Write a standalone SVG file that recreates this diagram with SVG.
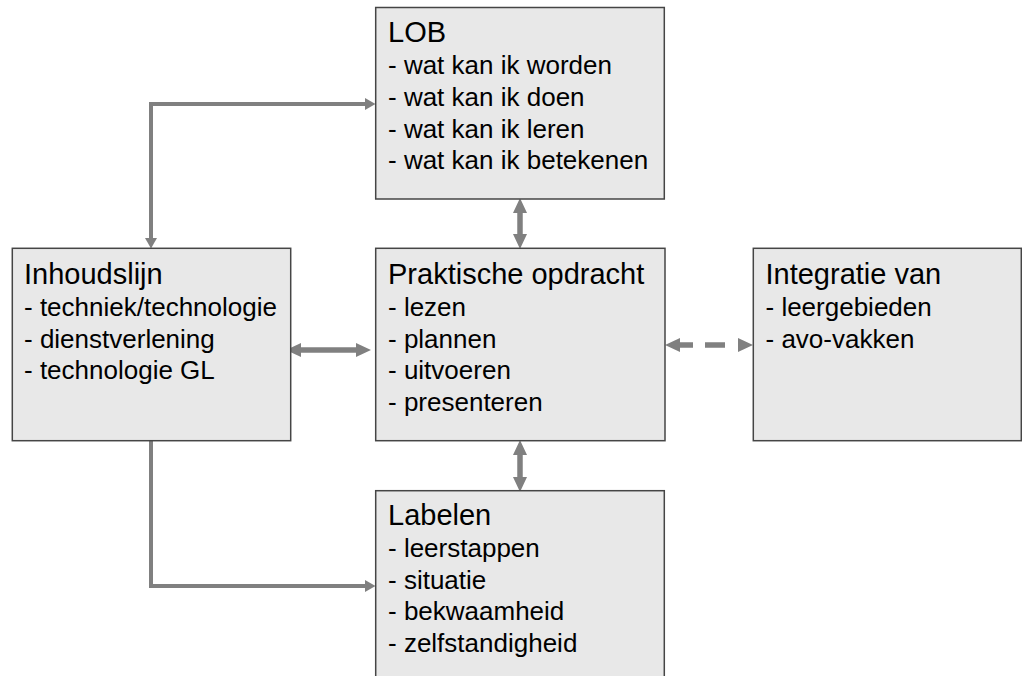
<svg xmlns="http://www.w3.org/2000/svg" width="1022" height="676" viewBox="0 0 1022 676">
<style>
.box{fill:#e8e8e8;stroke:#454545;stroke-width:1.5}
.t{font-family:"Liberation Sans",Arial,sans-serif;font-size:29px;fill:#000}
.i{font-family:"Liberation Sans",Arial,sans-serif;font-size:26px;fill:#000}
.thin{fill:none;stroke:#808080;stroke-width:4}
.thick{fill:none;stroke:#808080;stroke-width:5.5}
</style>
<defs>
<marker id="ah" markerUnits="userSpaceOnUse" markerWidth="11" markerHeight="12" refX="0" refY="6" orient="auto-start-reverse" overflow="visible">
<path d="M0,0 L10.5,6 L0,12 z" fill="#808080"/>
</marker>
<marker id="ahb" markerUnits="userSpaceOnUse" markerWidth="16" markerHeight="14" refX="0" refY="7" orient="auto-start-reverse" overflow="visible">
<path d="M0,0 L15,7 L0,14 z" fill="#808080"/>
</marker>
</defs>
<g id="connectors">
<path class="thin" d="M151,238 L151,104 L365,104" marker-start="url(#ah)" marker-end="url(#ah)"/>
<path class="thin" d="M151,441 L151,586 L365,586" marker-end="url(#ah)"/>
<line class="thick" x1="520" y1="213" x2="520" y2="234" marker-start="url(#ahb)" marker-end="url(#ahb)"/>
<line class="thick" x1="520" y1="455" x2="520" y2="477" marker-start="url(#ahb)" marker-end="url(#ahb)"/>
<line class="thick" x1="301" y1="350" x2="356" y2="350" marker-start="url(#ahb)" marker-end="url(#ahb)"/>
<line class="thick" x1="680" y1="345" x2="738" y2="345" stroke-dasharray="13 12 20 13" marker-start="url(#ahb)" marker-end="url(#ahb)"/>
</g>
<g id="lob">
<rect class="box" x="375.7" y="7.5" width="288.6" height="191.5"/>
<text class="t" x="388" y="42">LOB</text>
<text class="i" x="388" y="74">- wat kan ik worden</text>
<text class="i" x="388" y="106">- wat kan ik doen</text>
<text class="i" x="388" y="138">- wat kan ik leren</text>
<text class="i" x="388" y="169">- wat kan ik betekenen</text>
</g>
<g id="inhoudslijn">
<rect class="box" x="12.3" y="248.3" width="278.4" height="192.4"/>
<text class="t" x="24" y="284">Inhoudslijn</text>
<text class="i" x="24" y="316">- techniek/technologie</text>
<text class="i" x="24" y="348">- dienstverlening</text>
<text class="i" x="24" y="379">- technologie GL</text>
</g>
<g id="praktische">
<rect class="box" x="375.7" y="248.3" width="289.3" height="192.4"/>
<text class="t" x="388" y="284">Praktische opdracht</text>
<text class="i" x="388" y="316">- lezen</text>
<text class="i" x="388" y="348">- plannen</text>
<text class="i" x="388" y="379">- uitvoeren</text>
<text class="i" x="388" y="411">- presenteren</text>
</g>
<g id="integratie">
<rect class="box" x="753.3" y="248.3" width="268" height="192.4"/>
<text class="t" x="765.5" y="284">Integratie van</text>
<text class="i" x="765.5" y="316">- leergebieden</text>
<text class="i" x="765.5" y="348">- avo-vakken</text>
</g>
<g id="labelen">
<rect class="box" x="375.7" y="490.7" width="288.6" height="200"/>
<text class="t" x="388" y="525">Labelen</text>
<text class="i" x="388" y="557">- leerstappen</text>
<text class="i" x="388" y="589">- situatie</text>
<text class="i" x="388" y="620">- bekwaamheid</text>
<text class="i" x="388" y="652">- zelfstandigheid</text>
</g>
</svg>
